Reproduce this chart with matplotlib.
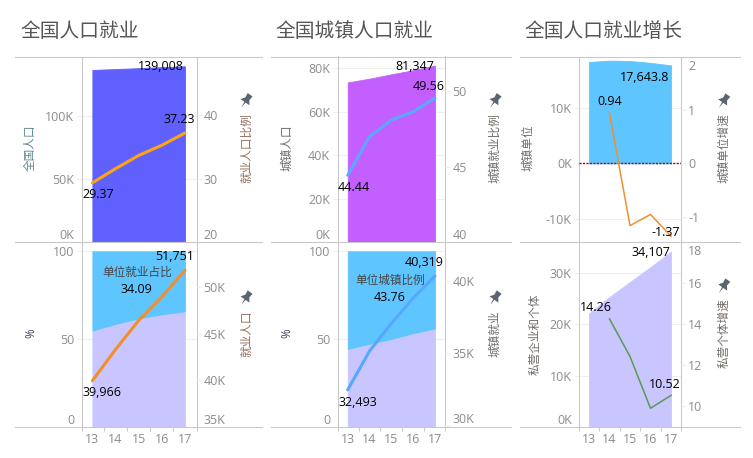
import numpy as np
import matplotlib
matplotlib.use("Agg")
import matplotlib.pyplot as plt
from matplotlib.lines import Line2D
from matplotlib.patches import Polygon
from matplotlib.transforms import ScaledTranslation

plt.rcParams['font.family'] = ['Open Sans', 'Noto Sans CJK SC', 'DejaVu Sans']

W, H = 753, 458
years = [13, 14, 15, 16, 17]

# top row
total_pop = [136072, 136800, 137500, 138300, 139008]
total_rate = [29.37, 31.6, 33.7, 35.3, 37.23]
urban_pop = [73600, 75300, 77300, 79200, 81347]
urban_rate = [44.44, 47.0, 48.09, 48.64, 49.56]
unit_jobs = [18250, 18500, 18430, 18100, 17643.8]
unit_growth = [0.94, -1.17, -0.96, -1.37]

# bottom row
unit_share = [55.0, 58.7, 61.9, 64.2, 65.91]
total_jobs = [39966, 43300, 46400, 48900, 51751]
urban_share = [44.5, 47.5, 50.2, 53.5, 56.24]
urban_jobs = [32493, 35160, 37070, 38800, 40319]
private_jobs = [22100, 25300, 28200, 31100, 34107]
private_growth = [14.26, 12.42, 9.89, 10.52]

BLUE = '#5fc5ff'
LAVENDER = '#c9c6ff'
GRID = '#efefef'
LINE = '#c8c8c8'
TICK = '#8c8c8c'

fig = plt.figure(figsize=(W / 100, H / 100), dpi=100)
fig.patch.set_facecolor('white')


def put(x, y, s, size=9, color='black', rot=0, ha='center'):
    fig.text(x / W, 1 - y / H, s, fontsize=size, color=color, rotation=rot,
             ha=ha, va='center')


def make_axes(x0, x1, y0, y1, xlim, bottom=False):
    ax = fig.add_axes([x0 / W, 1 - y1 / H, (x1 - x0) / W, (y1 - y0) / H])
    ax.set_xlim(*xlim)
    for s in ['top', 'bottom']:
        ax.spines[s].set_visible(False)
    for s in ['left', 'right']:
        ax.spines[s].set_color(LINE)
        ax.spines[s].set_linewidth(0.75)
    ax.grid(axis='y', color=GRID, lw=0.8)
    ax.set_axisbelow(True)
    ax.tick_params(axis='y', length=3.6, pad=1.8, color=GRID, labelcolor=TICK, labelsize=9)
    if bottom:
        ax.set_xticks(years)
        ax.set_xticks([xlim[0], 13.5, 14.5, 15.5, 16.5, xlim[1]], minor=True)
        ax.tick_params(axis='x', which='major', length=0, pad=4, labelcolor=TICK, labelsize=9)
        ax.tick_params(axis='x', which='minor', length=3, color=LINE, width=0.7)
    else:
        ax.set_xticks([])
    return ax


def y_axis(ax, ticks, labels, lim, shift_top=False, shift_bottom=False):
    ax.set_ylim(*lim)
    ax.set_yticks(ticks)
    ax.set_yticklabels(labels)
    tl = ax.get_yticklabels()
    if shift_bottom:
        tl[0].set_verticalalignment('bottom')
    if shift_top:
        # top label sits a bit lower than its tick
        tl[-1].set_verticalalignment('top')
        tl[-1].set_transform(tl[-1].get_transform() + ScaledTranslation(0, -3 / 100, fig.dpi_scale_trans))


def right_axis(ax, ticks, labels, lim, shift_top=False, shift_bottom=False):
    ax2 = ax.twinx()
    ax2.set_xlim(ax.get_xlim())
    for s in ax2.spines.values():
        s.set_visible(False)
    ax2.tick_params(axis='y', length=3.6, pad=1.5, color=GRID, labelcolor=TICK, labelsize=9)
    y_axis(ax2, ticks, labels, lim, shift_top, shift_bottom)
    return ax2


def pin(cx, cy, color='#5b6470'):
    # little pin icon next to the right axis title
    pts = np.array([[-2.5, -6], [2.5, -6], [2, -2], [4.5, 1.5], [0.6, 1.5], [0, 7],
                    [-0.6, 1.5], [-4.5, 1.5], [-2, -2]], dtype=float) * 1.2
    a = np.radians(35)
    xs = cx + pts[:, 0] * np.cos(a) - pts[:, 1] * np.sin(a)
    ys = cy + pts[:, 0] * np.sin(a) + pts[:, 1] * np.cos(a)
    fig.add_artist(Polygon(np.column_stack([xs / W, 1 - ys / H]), closed=True,
                           transform=fig.transFigure, fc=color, ec='none'))


TOP = (56.5, 242.3)
BOT = (242.3, 427.3)
LIM1 = (12.53, 17.5)
LIM2 = (12.54, 17.47)
LIM3 = (12.53, 17.5)
PCT_TICKS = [0, 50, 100]
PCT_LABELS = ['0', '50', '100']
PCT_LIM = (0, 105.1)

# panel 1 top
ax = make_axes(81.5, 196.5, *TOP, LIM1)
y_axis(ax, [0, 50000, 100000], ['0K', '50K', '100K'], (0, 146700), shift_bottom=True)
ax.fill_between(years, total_pop, 0, color='#6060ff', lw=0.6)
ax2 = right_axis(ax, [20, 30, 40], ['20', '30', '40'], (20, 49.3), shift_bottom=True)
ax2.plot(years, total_rate, color='#ffa30f', lw=2.2, solid_capstyle='round')

# panel 1 bottom
ax = make_axes(81.5, 196.5, *BOT, LIM1, bottom=True)
y_axis(ax, PCT_TICKS, PCT_LABELS, PCT_LIM, shift_bottom=True)
ax.fill_between(years, unit_share, 0, color=LAVENDER, lw=0.6)
ax.fill_between(years, unit_share, 100, color=BLUE, lw=0.6)
ax2 = right_axis(ax, [35000, 40000, 45000, 50000], ['35K', '40K', '45K', '50K'], (35000, 54740), shift_bottom=True)
ax2.plot(years, total_jobs, color='#f28e2b', lw=2.2, solid_capstyle='round')

# panel 2 top
ax = make_axes(337.7, 445.3, *TOP, LIM2)
y_axis(ax, [0, 20000, 40000, 60000, 80000], ['0K', '20K', '40K', '60K', '80K'], (0, 85500), shift_bottom=True)
ax.fill_between(years, urban_pop, 0, color='#c45fff', lw=0.6)
ax2 = right_axis(ax, [40, 45, 50], ['40', '45', '50'], (40.09, 52.3), shift_bottom=True)
ax2.plot(years, urban_rate, color='#5aa9ff', lw=2.2, solid_capstyle='round')

# panel 2 bottom
ax = make_axes(337.7, 445.3, *BOT, LIM2, bottom=True)
y_axis(ax, PCT_TICKS, PCT_LABELS, PCT_LIM, shift_bottom=True)
ax.fill_between(years, urban_share, 0, color=LAVENDER, lw=0.6)
ax.fill_between(years, urban_share, 100, color=BLUE, lw=0.6)
ax2 = right_axis(ax, [30000, 35000, 40000], ['30K', '35K', '40K'], (29910, 42640), shift_bottom=True)
ax2.plot(years, urban_jobs, color='#55a8ff', lw=2.2, solid_capstyle='round')

# panel 3 top
ax = make_axes(579.3, 681.3, *TOP, LIM3)
y_axis(ax, [-10000, 0, 10000], ['-10K', '0K', '10K'], (-14230, 19240))
ax.fill_between(years, unit_jobs, 0, color=BLUE, lw=0.6)
ax.axhline(0, color='#b00000', lw=1, ls=(0, (1.5, 1)), zorder=5)
ax2 = right_axis(ax, [-1, 0, 1, 2], ['-1', '0', '1', '2'], (-1.482, 2.0), shift_top=True)
ax2.plot(years[1:], unit_growth, color='#f28e2b', lw=1.1)

# panel 3 bottom
ax = make_axes(579.3, 681.3, *BOT, LIM3, bottom=True)
y_axis(ax, [0, 10000, 20000, 30000], ['0K', '10K', '20K', '30K'], (0, 35900), shift_bottom=True)
ax.fill_between(years, private_jobs, 0, color=LAVENDER, lw=0.6)
ax2 = right_axis(ax, [10, 12, 14, 16, 18], ['10', '12', '14', '16', '18'], (8.96, 18.0), shift_top=True)
ax2.plot(years[1:], private_growth, color='#5a9a52', lw=1.1)

# separators between the rows
for y in [56.5, 242.3, 427.3]:
    for x0, x1 in [(15, 262), (271, 511), (520, 740)]:
        fig.add_artist(Line2D([x0 / W, x1 / W], [1 - y / H, 1 - y / H], color=LINE, lw=0.75))

# titles
TITLE = '#555555'
put(20, 32.3, '全国人口就业', size=14.2, color=TITLE, ha='left')
put(275.5, 32.3, '全国城镇人口就业', size=14.2, color=TITLE, ha='left')
put(524.5, 32.3, '全国人口就业增长', size=14.2, color=TITLE, ha='left')

# axis titles
AX_T = '#6f6a66'
put(30.7, 148, '全国人口', 8.4, '#5f8a8f', 90)
put(246.7, 148, '就业人口比例', 8.4, '#8f6f5f', 90)
put(31, 333, '%', 8.4, '#4a3a55', 90)
put(246.7, 334, '就业人口', 8.4, '#8f6f5f', 90)
put(286.7, 148, '城镇人口', 8.4, AX_T, 90)
put(495, 148, '城镇就业比例', 8.4, AX_T, 90)
put(286.7, 333, '%', 8.4, '#4a3a55', 90)
put(495, 334, '城镇就业', 8.4, AX_T, 90)
put(528.3, 148, '城镇单位', 8.4, AX_T, 90)
put(724, 148, '城镇单位增速', 8.4, AX_T, 90)
put(535, 334, '私营企业和个体', 8.4, AX_T, 90)
put(724, 333, '私营个体增速', 8.4, AX_T, 90)

# value labels
put(161.3, 66.7, f'{total_pop[-1]:,}')
put(179.3, 119.3, f'{total_rate[-1]}')
put(98.3, 194.3, f'{total_rate[0]}')
put(174.7, 256.7, f'{total_jobs[-1]:,}')
put(137.3, 272.3, '单位就业占比', 8.4, '#444444')
put(136.7, 289.3, '34.09')
put(101.7, 392.7, f'{total_jobs[0]:,}')
put(414.7, 66.7, f'{urban_pop[-1]:,}')
put(428.3, 86, f'{urban_rate[-1]}')
put(354, 187.7, f'{urban_rate[0]}')
put(423.7, 262.7, f'{urban_jobs[-1]:,}')
put(390.3, 280.7, '单位城镇比例', 8.4, '#444444')
put(390, 297.3, '43.76')
put(357.7, 402.3, f'{urban_jobs[0]:,}')
put(645, 77.7, f'{unit_jobs[-1]:,}')
put(609.7, 101.7, f'{unit_growth[0]}')
put(665.3, 232.3, f'{unit_growth[-1]}')
put(596, 307.3, f'{private_growth[0]}')
put(650.7, 252.7, f'{private_jobs[-1]:,}')
put(664.3, 385, f'{private_growth[-1]}')

for cx, cy in [(246, 100.7), (246, 298), (495, 100.7), (495, 298), (723.7, 101), (723.7, 286)]:
    pin(cx, cy)

fig.savefig('out.png', dpi=100)
